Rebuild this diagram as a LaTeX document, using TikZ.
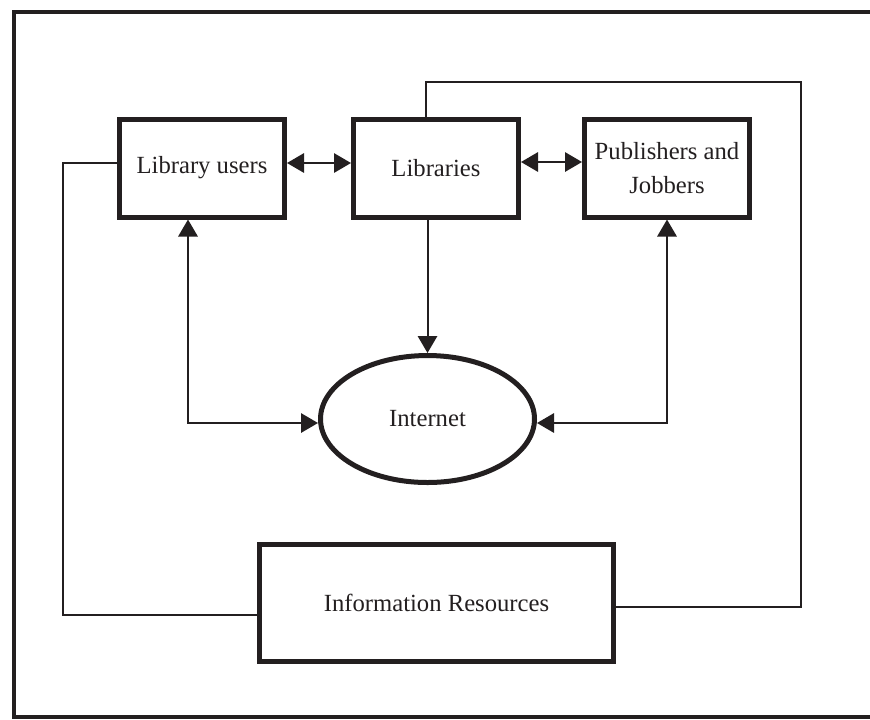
\documentclass[tikz,border=0pt]{standalone}
\usepackage{fontspec}
\setmainfont{Liberation Serif}
\usetikzlibrary{arrows.meta, shapes.geometric}
\definecolor{ink}{RGB}{35,31,32}

\begin{document}
\begin{tikzpicture}[x = 0.75pt, y = -0.75pt, ink,
	box/.style = {draw, line width = 3.75pt, minimum width = 123.75pt, minimum height = 73.5pt, align = center, font = \fontsize{18.5}{25}\selectfont},
	link/.style = {line width = 1.5pt},
	tip/.style = {link, -{Triangle[length = 12.75pt, width = 14.5pt]}},
	dbltip/.style = {link, {Triangle[length = 12.75pt, width = 14.5pt]}-{Triangle[length = 12.75pt, width = 14.5pt]}}]
	\useasboundingbox (0, 0) rectangle (870, 719);
	\draw[line width = 3pt] (872, 12) -- (14, 12) -- (14, 717) -- (872, 717);
	\node[box] (users) at (202, 168) {Library users};
	\node[box] (libs) at (436, 168) {Libraries};
	\node[box] (pubs) at (667, 168) {Publishers and\\Jobbers};
	\node[draw, ellipse, line width = 3.75pt, minimum width = 160.5pt, minimum height = 95.25pt, font = \fontsize{18.5}{25}\selectfont] (net) at (427.5, 419) {Internet};
	\node[box, minimum width = 265.5pt, minimum height = 87.75pt] (info) at (436.5, 603) {Information Resources};
	\coordinate (lft) at (63, 164);
	\coordinate (rgt) at (801, 82);
	\coordinate (infl) at ([yshift = -9pt]info.west);
	\coordinate (infr) at ([yshift = -3pt]info.east);
	\draw[dbltip] ([yshift = 3.75pt]users.east) -- ([yshift = 3.75pt]libs.west);
	\draw[dbltip] ([yshift = 4.5pt]libs.east) -- ([yshift = 4.5pt]pubs.west);
	\draw[tip] (net.north |- libs.south) -- (net.north);
	\draw[dbltip] ([xshift = -10.5pt]users.south) |- ([yshift = -3pt]net.west);
	\draw[dbltip] (pubs.south) |- ([yshift = -3pt]net.east);
	\draw[link] ([xshift = -7.5pt]libs.north) |- (rgt) |- (infr);
	\draw[link] ([yshift = 3.75pt]users.west) -| (lft |- infl) -- (infl);
\end{tikzpicture}
\end{document}
